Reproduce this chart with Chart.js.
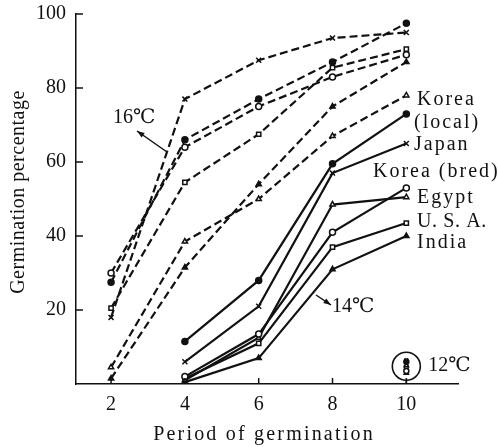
<!DOCTYPE html>
<html>
<head>
<meta charset="utf-8">
<script src="https://cdn.jsdelivr.net/npm/chart.js@4.4.1/dist/chart.umd.min.js"></script>
<style>
  html, body { margin: 0; padding: 0; background: #fff; }
</style>
</head>
<body>
<canvas id="germChart" width="498" height="447"></canvas>
<script>
// days of germination
const days16 = [2, 4, 6, 8, 10];
const days14 = [4, 6, 8, 10];
const xTicks = [2, 4, 6, 8, 10];
const yTicks = [20, 40, 60, 80, 100];

const countries = ["Korea (local)", "Japan", "Korea (bred)", "Egypt", "U.S.A.", "India"];

// 16°C (dashed)
const korLocal16 = [27.5, 66, 77, 87, 97.5];
const japan16    = [18, 77, 87.5, 93.5, 95];
const korBred16  = [30, 64, 75, 83, 89];
const egypt16    = [4.5, 38.5, 50, 67, 78];
const usa16      = [20.5, 54.5, 67.5, 85.5, 90.5];
const india16    = [1.5, 31.5, 54, 75, 87];

// 14°C (solid)
const korLocal14 = [11.5, 28, 59.5, 73];
const japan14    = [6, 21, 57, 65];
const korBred14  = [2, 13.5, 41, 53];
const egypt14    = [1, 12.5, 48.5, 50.5];
const usa14      = [1.5, 11, 37, 43.5];
const india14    = [0.5, 7, 31, 40];

// 12°C (day 10 only)
const day12 = 10;
const values12 = [6, 6.5, 3.5, 5, 4.5, 3];

const markers = ["circle", "crossRot", "circle", "triangle", "rect", "triangle"];
const fills   = ["#111", "#111", "#fff", "#fff", "#fff", "#111"];

const series16 = [korLocal16, japan16, korBred16, egypt16, usa16, india16];
const series14 = [korLocal14, japan14, korBred14, egypt14, usa14, india14];

const serif = "'Liberation Serif', 'DejaVu Serif', serif";

function pairs(xs, ys) {
  return ys.map((v, i) => ({ x: xs[i], y: v }));
}

const datasets = [];
countries.forEach((name, i) => {
  const base = {
    borderColor: "#111",
    pointBorderColor: "#111",
    pointBackgroundColor: fills[i],
    pointStyle: markers[i],
    pointRadius: markers[i] === "crossRot" ? 3.5 : 3,
    pointBorderWidth: 1.5,
    fill: false,
    tension: 0
  };
  datasets.push(Object.assign({}, base, {
    label: name + " 16",
    data: pairs(days16, series16[i]),
    borderWidth: 2.2,
    borderDash: [8, 4]
  }));
  datasets.push(Object.assign({}, base, {
    label: name + " 14",
    data: pairs(days14, series14[i]),
    borderWidth: 2.2
  }));
  datasets.push(Object.assign({}, base, {
    label: name + " 12",
    data: [{ x: day12, y: values12[i] }],
    showLine: false,
    pointRadius: 2.5
  }));
});

function arrow(ctx, x1, y1, x2, y2) {
  ctx.beginPath();
  ctx.moveTo(x1, y1);
  ctx.lineTo(x2, y2);
  ctx.stroke();
  const a = Math.atan2(y2 - y1, x2 - x1);
  ctx.beginPath();
  ctx.moveTo(x2, y2);
  ctx.lineTo(x2 - 8 * Math.cos(a - 0.35), y2 - 8 * Math.sin(a - 0.35));
  ctx.lineTo(x2 - 8 * Math.cos(a + 0.35), y2 - 8 * Math.sin(a + 0.35));
  ctx.closePath();
  ctx.fill();
}

const decorPlugin = {
  id: "decor",
  afterDraw(chart) {
    const ctx = chart.ctx;
    const xs = chart.scales.x, ys = chart.scales.y;
    const area = chart.chartArea;
    ctx.save();
    ctx.strokeStyle = "#111";
    ctx.fillStyle = "#111";
    ctx.lineWidth = 1.5;

    // inward tick marks
    yTicks.forEach(v => {
      const py = ys.getPixelForValue(v);
      ctx.beginPath();
      ctx.moveTo(area.left, py);
      ctx.lineTo(area.left + 7, py);
      ctx.stroke();
    });
    xTicks.forEach(v => {
      const px = xs.getPixelForValue(v);
      ctx.beginPath();
      ctx.moveTo(px, area.bottom);
      ctx.lineTo(px, area.bottom - 6);
      ctx.stroke();
    });

    // axis titles
    ctx.font = "20px " + serif;
    ctx.textAlign = "center";
    ctx.textBaseline = "middle";
    ctx.letterSpacing = "2.2px";
    ctx.fillText("Period of germination", 264, 435);
    ctx.letterSpacing = "0.5px";
    ctx.save();
    ctx.translate(19, 192);
    ctx.rotate(-Math.PI / 2);
    ctx.fillText("Germination percentage", 0, 0);
    ctx.restore();

    // country labels at the right
    ctx.letterSpacing = "2px";
    ctx.textAlign = "left";
    ctx.fillText("Korea", 417, 100);
    ctx.fillText("(local)", 414, 123);
    ctx.fillText("Japan", 414, 145);
    ctx.fillText("Korea (bred)", 373, 172);
    ctx.fillText("Egypt", 417, 198);
    ctx.fillText("India", 417, 243);
    ctx.letterSpacing = "0.6px";
    ctx.fillText("U. S. A.", 417, 222);

    // temperature notes
    ctx.letterSpacing = "0px";
    ctx.fillText("16℃", 113, 118);
    arrow(ctx, 167, 152, 137, 131);
    ctx.fillText("14℃", 332, 307);
    arrow(ctx, 316, 295, 331, 305);

    // 12°C circle
    const cx = xs.getPixelForValue(day12);
    const cy = ys.getPixelForValue(4.8);
    ctx.lineWidth = 1.6;
    ctx.beginPath();
    ctx.arc(cx, cy, 14, 0, Math.PI * 2);
    ctx.stroke();
    ctx.beginPath();
    ctx.moveTo(cx, cy + 14);
    ctx.lineTo(cx, area.bottom);
    ctx.stroke();
    ctx.fillText("12℃", cx + 22, cy);
    ctx.restore();
  }
};

new Chart(document.getElementById("germChart"), {
  type: "line",
  data: { datasets: datasets },
  options: {
    responsive: false,
    animation: false,
    devicePixelRatio: 1,
    layout: { padding: { left: 0, right: 40, top: 14, bottom: 0 } },
    plugins: {
      legend: { display: false },
      tooltip: { enabled: false }
    },
    elements: { line: { borderCapStyle: "butt" } },
    scales: {
      x: {
        type: "linear",
        min: 1.05,
        max: 11.4,
        afterBuildTicks: s => { s.ticks = xTicks.map(v => ({ value: v })); },
        afterFit: s => { s.height = 63; },
        grid: { display: false, drawTicks: false },
        border: { display: true, color: "#111", width: 1.5 },
        ticks: {
          color: "#111",
          padding: 9,
          font: { family: serif, size: 20 }
        }
      },
      y: {
        type: "linear",
        min: 0,
        max: 100,
        afterBuildTicks: s => { s.ticks = yTicks.map(v => ({ value: v })); },
        afterFit: s => { s.width = 76; s.paddingTop = 0; s.paddingBottom = 0; },
        grid: { display: false, drawTicks: false },
        border: { display: true, color: "#111", width: 1.5 },
        ticks: {
          color: "#111",
          padding: 10,
          font: { family: serif, size: 20 }
        }
      }
    }
  },
  plugins: [decorPlugin]
});
</script>
</body>
</html>
